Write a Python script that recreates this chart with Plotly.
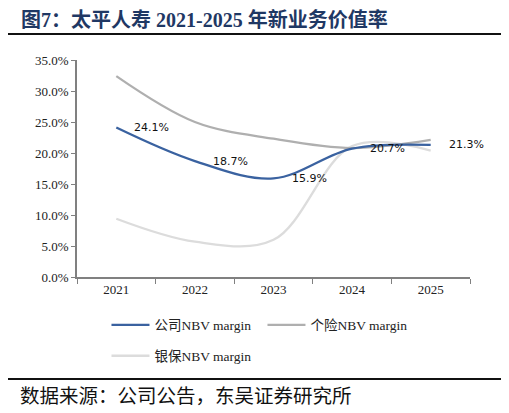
import plotly.graph_objects as go

years = ["2021", "2022", "2023", "2024", "2025"]
company = [24.1, 18.7, 15.9, 20.7, 21.3]
agent = [32.4, 25.0, 22.3, 20.8, 22.1]
banca = [9.4, 5.7, 6.0, 21.1, 20.4]
company_labels = ["24.1%", "18.7%", "15.9%", "20.7%", "21.3%"]
y_ticks = [0, 5, 10, 15, 20, 25, 30, 35]
y_tick_labels = ["0.0%", "5.0%", "10.0%", "15.0%", "20.0%", "25.0%", "30.0%", "35.0%"]

serif = "Liberation Serif, Noto Sans CJK SC"

fig = go.Figure()
fig.add_trace(go.Scatter(x=years, y=banca, mode="lines", name="银保NBV margin",
                         line=dict(color="#DCDCDC", width=2.3, shape="spline", smoothing=1),
                         legend="legend2"))
fig.add_trace(go.Scatter(x=years, y=agent, mode="lines", name="个险NBV margin",
                         line=dict(color="#AFAFAF", width=2.3, shape="spline", smoothing=1),
                         legend="legend", legendrank=2))
fig.add_trace(go.Scatter(x=years, y=company, mode="lines", name="公司NBV margin",
                         line=dict(color="#3A62A0", width=2.3, shape="spline", smoothing=1),
                         legend="legend", legendrank=1))

for i, (yv, t) in enumerate(zip(company, company_labels)):
    fig.add_annotation(x=i, y=yv, text=t, showarrow=False, xanchor="left",
                       yanchor="middle", xshift=16,
                       font=dict(family="DejaVu Sans, Noto Sans", size=11, color="#111111"))

fig.update_layout(
    width=501, height=405,
    margin=dict(l=69, r=39, t=52, b=136, autoexpand=False),
    paper_bgcolor="white", plot_bgcolor="white",
    showlegend=True,
    legend=dict(orientation="h", x=0.075, y=-0.222, xanchor="left", yanchor="middle",
                entrywidth=103, itemwidth=38,
                font=dict(family=serif, size=13.5, color="#222222"), bgcolor="rgba(0,0,0,0)"),
    legend2=dict(orientation="h", x=0.075, y=-0.364, xanchor="left", yanchor="middle",
                 itemwidth=38,
                 font=dict(family=serif, size=13.5, color="#222222"), bgcolor="rgba(0,0,0,0)"),
    xaxis=dict(type="category", range=[-0.5, 4.5], showline=True, linecolor="#808080",
               linewidth=1.5, ticks="outside", tickson="boundaries", ticklen=5,
               tickcolor="#808080", showgrid=False, automargin=False,
               tickfont=dict(family="Liberation Serif", size=13, color="#222222")),
    yaxis=dict(range=[0, 35], tickvals=y_ticks, ticktext=y_tick_labels,
               showline=True, linecolor="#808080", linewidth=1.5, ticks="outside",
               ticklen=4, tickcolor="#808080", showgrid=False, zeroline=False,
               automargin=False,
               tickfont=dict(family="Liberation Serif", size=13, color="#222222")),
)

fig.add_annotation(xref="paper", yref="paper", x=-0.148, y=1.184, xanchor="left",
                   yanchor="middle", showarrow=False,
                   text="<b>图7：太平人寿 2021-2025 年新业务价值率</b>",
                   font=dict(family="Liberation Serif, Noto Sans CJK SC", size=20, color="#1F3864"))
fig.add_annotation(xref="paper", yref="paper", x=-0.15, y=-0.54, xanchor="left",
                   yanchor="middle", showarrow=False,
                   text="数据来源：公司公告，东吴证券研究所",
                   font=dict(family="Noto Sans CJK SC", size=19.5, color="#111111"))
fig.add_shape(type="line", xref="paper", yref="paper", x0=-0.183, x1=1.084,
              y0=1.12, y1=1.12, line=dict(color="#111111", width=2))
fig.add_shape(type="line", xref="paper", yref="paper", x0=-0.183, x1=1.084,
              y0=-0.47, y1=-0.47, line=dict(color="#111111", width=2))

fig.write_html("out.html")
